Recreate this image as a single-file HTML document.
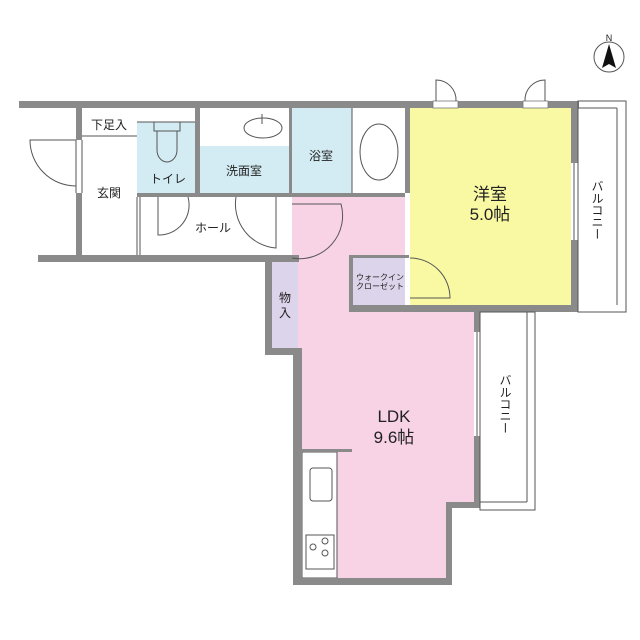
<!DOCTYPE html>
<html><head><meta charset="utf-8"><style>
body{margin:0;background:#fff}
svg{display:block}
text{font-family:"Liberation Sans","Noto Sans CJK JP",sans-serif;fill:#222}
.v{writing-mode:vertical-rl;glyph-orientation-vertical:0}
</style></head><body>
<svg width="640" height="640" viewBox="0 0 640 640">
<rect x="82" y="108" width="55" height="147" fill="#fff"/>
<rect x="137" y="122" width="58" height="71" fill="#d3ecf3"/>
<rect x="200" y="146" width="89" height="47" fill="#d3ecf3"/>
<rect x="292" y="108" width="60" height="85" fill="#d3ecf3"/>
<rect x="410" y="108" width="161" height="197" fill="#f9f9a4"/>
<path d="M292 197 H405 V258 H349 V312 H474 V502 H446 V578 H302 V350 H298 V258 H292 Z" fill="#f8d3e6"/>
<rect x="302" y="452" width="35" height="126" fill="#fff" stroke="#555" stroke-width="1"/>
<rect x="353" y="258" width="52" height="47" fill="#dcd4ea"/>
<rect x="272" y="262" width="26" height="86" fill="#dcd4ea"/>
<rect x="406" y="258" width="4" height="47" fill="#fff"/>
<g fill="#8a8a8a">
<rect x="19" y="101" width="560" height="7"/>
<rect x="76" y="108" width="6" height="32"/>
<rect x="76" y="193" width="6" height="62"/>
<rect x="38" y="255" width="261" height="7"/>
<rect x="195" y="108" width="5" height="89"/>
<rect x="137" y="193" width="152" height="4"/>
<rect x="289" y="108" width="3" height="89"/>
<rect x="292" y="193" width="113" height="4"/>
<rect x="405" y="108" width="5" height="85"/>
<rect x="571" y="108" width="7" height="55"/>
<rect x="571" y="240" width="7" height="72"/>
<rect x="265" y="255" width="7" height="100"/>
<rect x="265" y="348" width="37" height="7"/>
<rect x="293" y="348" width="9" height="237"/>
<rect x="293" y="578" width="159" height="7"/>
<rect x="446" y="502" width="6" height="83"/>
<rect x="446" y="502" width="34" height="6"/>
<rect x="474" y="312" width="6" height="20"/>
<rect x="474" y="436" width="6" height="72"/>
<rect x="349" y="255" width="4" height="57"/>
<rect x="349" y="305" width="229" height="7"/>
<rect x="302" y="449" width="50" height="3"/>
<rect x="349" y="255" width="60" height="3"/>
</g>
<rect x="433" y="101" width="25" height="7" fill="#fff" stroke="#777" stroke-width=".8"/>
<rect x="523" y="101" width="25" height="7" fill="#fff" stroke="#777" stroke-width=".8"/>
<g fill="none" stroke="#555" stroke-width="1">
<path d="M436 101 V80 A20 20 0 0 1 456 101"/>
<path d="M545 101 V80 A20 20 0 0 0 525 101"/>
<path d="M76 140 H30 A46 46 0 0 0 76 186"/>
<line x1="76" y1="140" x2="76" y2="193"/><line x1="82" y1="140" x2="82" y2="193"/>
<line x1="82" y1="136" x2="137" y2="136"/>
<line x1="137" y1="122" x2="195" y2="122"/>
<rect x="154" y="122" width="26" height="9"/>
<path d="M157 131 V150 A10 12 0 0 0 177 150 V131"/>
<ellipse cx="263" cy="128" rx="19" ry="10"/>
<line x1="262" y1="114" x2="262" y2="124"/>
<ellipse cx="379" cy="152" rx="19" ry="28"/>
<line x1="352" y1="108" x2="352" y2="193"/>
<path d="M158 197 V235 A30 30 0 0 0 188 197"/>
<path d="M276 197 V248 A44 44 0 0 1 236 197"/>
<path d="M292 258 A43 43 0 0 0 341 204 H292"/>
<path d="M410 258 A40 40 0 0 1 450 298 H410"/>
<line x1="137" y1="197" x2="137" y2="255"/><line x1="140" y1="197" x2="140" y2="255"/>
<rect x="578" y="101" width="48" height="211"/>
<line x1="617" y1="108" x2="617" y2="305"/><line x1="578" y1="108" x2="617" y2="108"/>
<rect x="480" y="312" width="55" height="198"/>
<line x1="527" y1="312" x2="527" y2="502"/><line x1="480" y1="502" x2="527" y2="502"/>
<rect x="310" y="468" width="22" height="33" rx="3"/>
<rect x="306" y="535" width="28" height="34"/>
<circle cx="313" cy="547" r="3"/><circle cx="325" cy="541" r="3"/><circle cx="325" cy="553" r="3"/>
<line x1="574" y1="163" x2="574" y2="240"/>
<line x1="477" y1="332" x2="477" y2="436"/>
<circle cx="609" cy="57" r="15"/>
</g>
<path d="M609 44 L602 68 L609 64 L616 68 Z" fill="#111"/>
<text x="609" y="41" font-size="9" text-anchor="middle">N</text>
<g font-size="12" text-anchor="middle">
<text x="109" y="129">下足入</text>
<text x="109" y="197">玄関</text>
<text x="168" y="183">トイレ</text>
<text x="244" y="175">洗面室</text>
<text x="321" y="160">浴室</text>
<text x="213" y="232">ホール</text>
<text x="285" y="302">物</text><text x="285" y="317">入</text>
</g>
<g font-size="8" text-anchor="middle">
<text x="380" y="280">ウォークイン</text>
<text x="380" y="289">クローゼット</text>
</g>
<g font-size="17" text-anchor="middle">
<text x="490" y="200">洋室</text>
<text x="490" y="220">5.0帖</text>
<text x="394" y="422">LDK</text>
<text x="394" y="443">9.6帖</text>
</g>
<g font-size="12">
<text class="v" x="597" y="180">バルコニー</text>
<text class="v" x="505" y="374">バルコニー</text>
</g>
</svg>
</body></html>
